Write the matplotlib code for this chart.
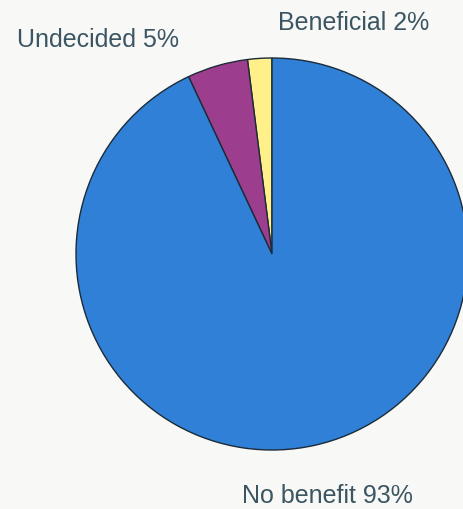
import matplotlib
matplotlib.use("Agg")
import matplotlib.pyplot as plt

# survey answers (percent)
labels = ['Beneficial', 'Undecided', 'No benefit']
values = [2, 5, 93]
colors = ['#fff08a', '#9c3d8e', '#2f80d6']

plt.rcParams['font.family'] = ['Liberation Sans', 'DejaVu Sans']

fig = plt.figure(figsize=(4.64, 5.10), dpi=100, facecolor='#f8f8f7')
ax = fig.add_axes([0, 0, 1, 1])
ax.set_facecolor('#f8f8f7')

ax.pie(values, colors=colors, startangle=90, counterclock=True,
       center=(272, 255), radius=196,
       wedgeprops=dict(edgecolor='#1c2b38', linewidth=1.0))

ax.set_xlim(0, 464)
ax.set_ylim(0, 510)
ax.set_aspect('equal')
ax.axis('off')

txt = dict(color='#3b5662', fontsize=18, ha='center', va='center')
ax.text(354, 510 - 23, f'{labels[0]} {values[0]}%', **txt)
ax.text(98, 510 - 40, f'{labels[1]} {values[1]}%', **txt)
ax.text(327, 510 - 496, f'{labels[2]} {values[2]}%', **txt)

fig.savefig('out.png', dpi=100, facecolor=fig.get_facecolor())
